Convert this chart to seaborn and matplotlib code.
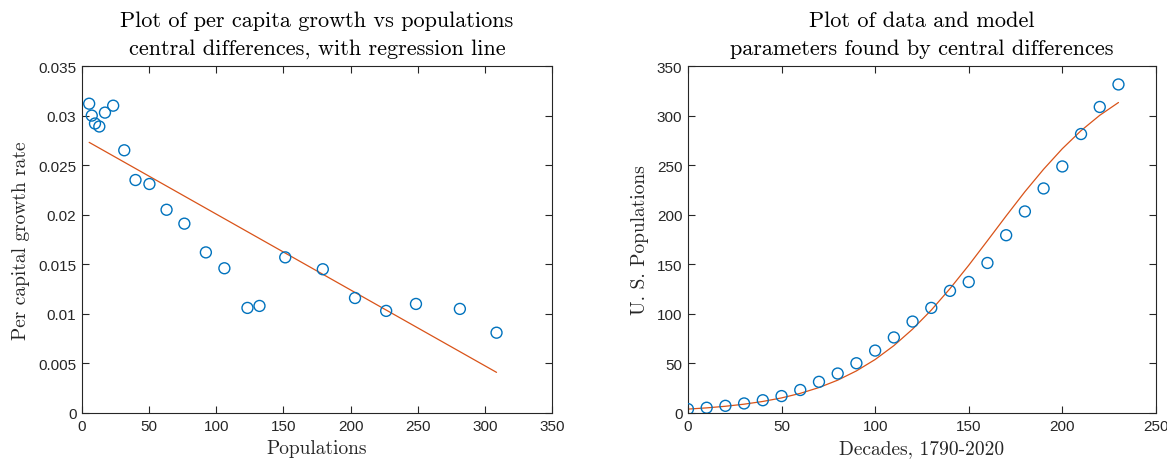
import matplotlib
matplotlib.use("Agg")
import matplotlib.pyplot as plt
import seaborn as sns
import numpy as np
import pandas as pd

# ---------------- data ----------------
decades = [0, 10, 20, 30, 40, 50, 60, 70, 80, 90, 100, 110, 120, 130, 140, 150,
           160, 170, 180, 190, 200, 210, 220, 230]
us_pop = [3.93, 5.31, 7.24, 9.64, 12.87, 17.07, 23.19, 31.44, 39.82, 50.19, 62.95,
          76.21, 92.23, 106.02, 123.2, 132.16, 151.33, 179.32, 203.3, 226.5, 248.7,
          281.4, 308.7, 331.4]
model_pop = [3.93, 5.17, 6.79, 8.90, 11.65, 15.21, 19.81, 25.67, 33.12, 42.46, 53.95,
             67.94, 84.58, 103.8, 125.5, 149.0, 173.8, 198.8, 223.2, 245.9, 266.6,
             284.8, 300.3, 313.2]

pop_mid = [5.31, 7.24, 9.64, 12.87, 17.07, 23.19, 31.44, 39.82, 50.19, 62.95, 76.21,
           92.23, 106.02, 123.2, 132.16, 151.33, 179.32, 203.3, 226.5, 248.7, 281.4,
           308.7]
growth_rate = [0.0312, 0.0300, 0.0292, 0.0289, 0.0303, 0.0310, 0.0265, 0.0235, 0.0231,
               0.0205, 0.0191, 0.0162, 0.0146, 0.0106, 0.0108, 0.0157, 0.0145, 0.0116,
               0.0103, 0.0110, 0.0105, 0.0081]
reg_x = [5.31, 308.7]
reg_y = [0.0273, 0.0041]

left_xticks = [0, 50, 100, 150, 200, 250, 300, 350]
left_yticks = [0, 0.005, 0.01, 0.015, 0.02, 0.025, 0.03, 0.035]
left_yticklabels = ["0", "0.005", "0.01", "0.015", "0.02", "0.025", "0.03", "0.035"]
right_xticks = [0, 50, 100, 150, 200, 250]
right_yticks = [0, 50, 100, 150, 200, 250, 300, 350]

# ---------------- style ----------------
sns.set_theme(style="white")
plt.rcParams["font.family"] = ["Liberation Sans", "DejaVu Sans"]
plt.rcParams["axes.unicode_minus"] = False

BLUE = "#0072BD"
ORANGE = "#D95319"
AXCOL = "#262626"
SERIF = "cmr10"

fig = plt.figure(figsize=(11.67, 4.6), dpi=100)
ax1 = fig.add_axes([0.0703, 0.1, 0.4027, 0.7543])
ax2 = fig.add_axes([0.5895, 0.1, 0.4010, 0.7543])

df_left = pd.DataFrame({"pop": pop_mid, "rate": growth_rate})
df_reg = pd.DataFrame({"x": reg_x, "y": reg_y})
df_right = pd.DataFrame({"t": decades, "pop": us_pop})
df_model = pd.DataFrame({"t": decades, "model": model_pop})

sns.scatterplot(data=df_left, x="pop", y="rate", ax=ax1, marker="o", s=62,
                facecolors="none", edgecolor=BLUE, linewidth=1.0, zorder=3)
sns.lineplot(data=df_reg, x="x", y="y", ax=ax1, color=ORANGE, linewidth=0.9, zorder=2)

sns.lineplot(data=df_model, x="t", y="model", ax=ax2, color=ORANGE, linewidth=0.9, zorder=2)
sns.scatterplot(data=df_right, x="t", y="pop", ax=ax2, marker="o", s=62,
                facecolors="none", edgecolor=BLUE, linewidth=1.0, zorder=3)

ax1.set_xlim(0, 350)
ax1.set_ylim(0, 0.035)
ax1.set_xticks(left_xticks)
ax1.set_yticks(left_yticks)
ax1.set_yticklabels(left_yticklabels)

ax2.set_xlim(0, 250)
ax2.set_ylim(0, 350)
ax2.set_xticks(right_xticks)
ax2.set_yticks(right_yticks)

titles = ["Plot of per capita growth vs populations\ncentral differences, with regression line",
          "Plot of data and model\nparameters found by central differences"]
xlabels = ["Populations", "Decades, 1790-2020"]
ylabels = ["Per capital growth rate", "U. S. Populations"]

for ax, ttl, xl, yl in zip([ax1, ax2], titles, xlabels, ylabels):
    ax.set_title(ttl, fontfamily=SERIF, fontsize=16, color="black", pad=9, linespacing=1.5)
    ax.set_xlabel(xl, fontfamily=SERIF, fontsize=14, color="#262626", labelpad=5)
    ax.set_ylabel(yl, fontfamily=SERIF, fontsize=14, color="#262626", labelpad=6)
    for sp in ax.spines.values():
        sp.set_visible(True)
        sp.set_color(AXCOL)
        sp.set_linewidth(0.8)
    ax.tick_params(direction="in", length=5, width=0.8, color=AXCOL,
                   top=True, right=True, bottom=True, left=True,
                   labelsize=11, labelcolor="#262626", pad=4)
    ax.grid(False)
    ax.set_facecolor("white")

fig.savefig("out.png", dpi=100, facecolor="white")
